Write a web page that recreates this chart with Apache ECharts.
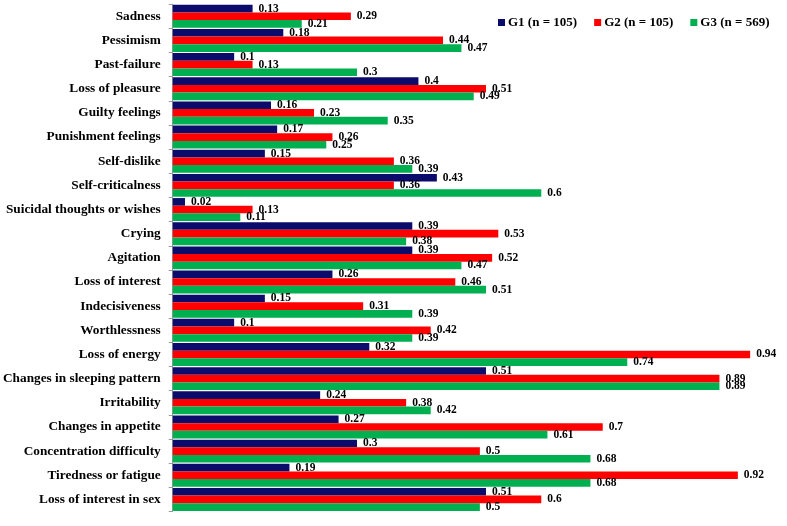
<!DOCTYPE html>
<html><head><meta charset="utf-8">
<script src="https://cdn.jsdelivr.net/npm/echarts@6/dist/echarts.min.js"></script>
<style>html,body{margin:0;padding:0;background:#fff}#c{width:787px;height:526px}</style>
</head><body><div id="c"></div>
<script>
const categories = ["Sadness","Pessimism","Past-failure","Loss of pleasure","Guilty feelings","Punishment feelings","Self-dislike","Self-criticalness","Suicidal thoughts or wishes","Crying","Agitation","Loss of interest","Indecisiveness","Worthlessness","Loss of energy","Changes in sleeping pattern","Irritability","Changes in appetite","Concentration difficulty","Tiredness or fatigue","Loss of interest in sex"];
const seriesNames = ["G1 (n = 105)","G2 (n = 105)","G3 (n = 569)"];
const g1 = [0.13,0.18,0.1,0.4,0.16,0.17,0.15,0.43,0.02,0.39,0.39,0.26,0.15,0.1,0.32,0.51,0.24,0.27,0.3,0.19,0.51];
const g2 = [0.29,0.44,0.13,0.51,0.23,0.26,0.36,0.36,0.13,0.53,0.52,0.46,0.31,0.42,0.94,0.89,0.38,0.7,0.5,0.92,0.6];
const g3 = [0.21,0.47,0.3,0.49,0.35,0.25,0.39,0.6,0.11,0.38,0.47,0.51,0.39,0.39,0.74,0.89,0.42,0.61,0.68,0.68,0.5];
const colors = ["#0b0b6b","#ff0000","#00b050"];
const font = "'Liberation Serif','Times New Roman',serif";
const chart = echarts.init(document.getElementById('c'));
const mk = (name, data, color) => ({
  name, type: 'bar', data, barGap: '0%', barCategoryGap: '5%',
  itemStyle: {color},
  label: {show: true, position: 'right', distance: 6, color: '#000', fontFamily: font, fontWeight: 'bold', fontSize: 11.5}
});
chart.setOption({
  animation: false,
  color: colors,
  legend: {
    top: 11, left: 493, itemWidth: 7, itemHeight: 7, itemGap: 17, icon: 'rect',
    textStyle: {fontFamily: font, fontWeight: 'bold', fontSize: 13, color: '#000', padding: [0,0,0,-2]},
    data: seriesNames
  },
  grid: {left: 172.5, top: 4.2, bottom: 14.5, width: 620, containLabel: false},
  xAxis: {type: 'value', min: 0, max: 1, show: false},
  yAxis: {
    type: 'category', data: categories, inverse: true,
    axisLine: {lineStyle: {color: '#9a9a9a'}},
    axisTick: {show: true, length: 4, lineStyle: {color: '#9a9a9a'}},
    axisLabel: {fontFamily: font, fontWeight: 'bold', fontSize: 13.3, color: '#000', margin: 12}
  },
  series: [mk(seriesNames[0], g1, colors[0]), mk(seriesNames[1], g2, colors[1]), mk(seriesNames[2], g3, colors[2])]
});
</script></body></html>
